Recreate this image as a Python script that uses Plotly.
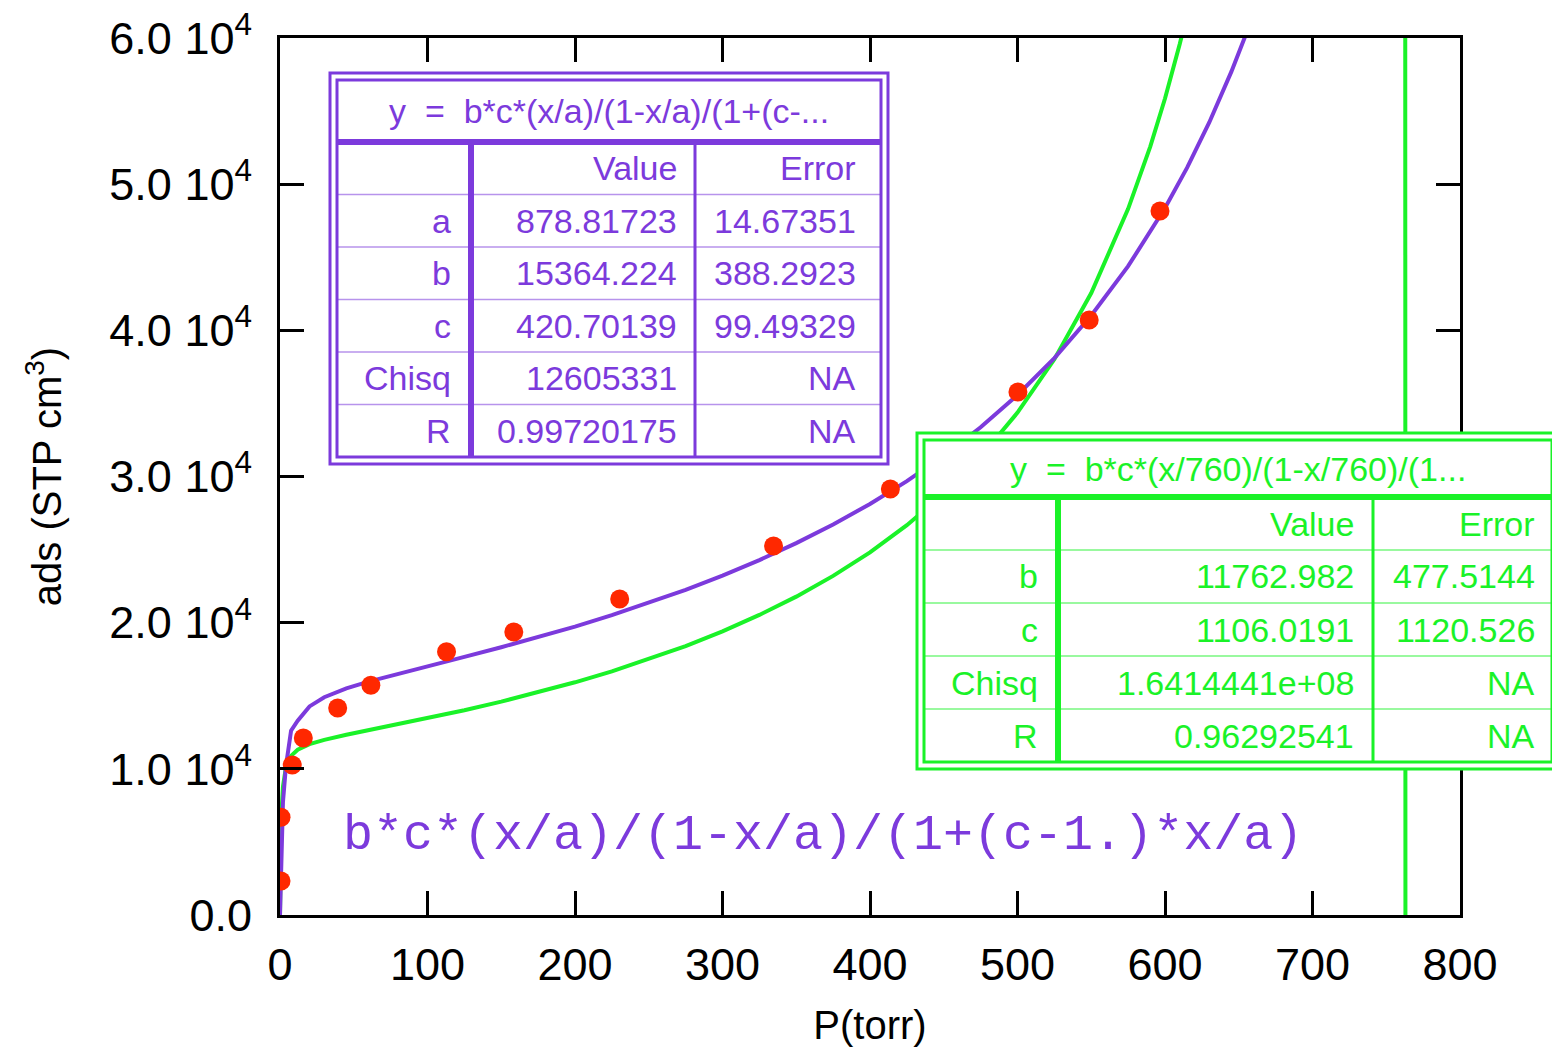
import plotly.graph_objects as go

# ---------------- data ----------------
p_torr = [0.7, 0.7, 8.3, 15.8, 39.1, 61.6, 112.9, 158.5, 230.3, 334.6, 413.8, 500.3, 548.6, 596.6]
ads = [2330, 6690, 10260, 12110, 14160, 15720, 18010, 19360, 21620, 25250, 29150, 35780, 40710, 48160]

fit1_x = [0, 1, 2, 4, 7.5, 12, 20, 30, 45, 60, 80, 100, 125, 150, 175, 200, 225, 250, 275, 300,
          325, 350, 375, 400, 425, 450, 475, 500, 525, 550, 575, 600, 615, 630, 645, 655]
fit1_y = [0, 4980, 7720, 10160, 12610, 13290, 14270, 14900, 15510, 15970, 16510, 17020, 17660, 18320,
          19000, 19730, 20510, 21350, 22250, 23220, 24280, 25440, 26720, 28120, 29680, 31420, 33370,
          35580, 38100, 41010, 44390, 48370, 51130, 54220, 57700, 60280]

fit2_x = [0, 1, 2, 4, 7.5, 12, 20, 30, 45, 60, 80, 100, 125, 150, 175, 200, 225, 250, 275, 300,
          325, 350, 375, 400, 425, 450, 475, 500, 525, 550, 575, 590, 600, 610, 615, 757, 766]
fit2_y = [0, 6990, 8780, 10100, 10890, 11310, 11690, 11980, 12330, 12640, 13050, 13470, 14010, 14600,
          15240, 15920, 16670, 17500, 18400, 19410, 20530, 21780, 23200, 24810, 26670, 28820, 31350,
          34370, 38030, 42550, 48310, 52570, 55860, 59590, 61640, 2980000, -1490000]

x_ticks = [0, 100, 200, 300, 400, 500, 600, 700, 800]
y_ticks = [0, 10000, 20000, 30000, 40000, 50000, 60000]
y_ticktext = ["0.0", "1.0 10<sup>4</sup>", "2.0 10<sup>4</sup>", "3.0 10<sup>4</sup>",
              "4.0 10<sup>4</sup>", "5.0 10<sup>4</sup>", "6.0 10<sup>4</sup>"]

NB = "\u00a0"
t1_header = "y" + NB + " = " + NB + "b*c*(x/a)/(1-x/a)/(1+(c-..."
t1_labels = ["a", "b", "c", "Chisq", "R"]
t1_values = ["878.81723", "15364.224", "420.70139", "12605331", "0.99720175"]
t1_errors = ["14.67351", "388.2923", "99.49329", "NA", "NA"]

t2_header = "y" + NB + " = " + NB + "b*c*(x/760)/(1-x/760)/(1..."
t2_labels = ["b", "c", "Chisq", "R"]
t2_values = ["11762.982", "1106.0191", "1.6414441e+08", "0.96292541"]
t2_errors = ["477.5144", "1120.526", "NA", "NA"]

formula_text = "b*c*(x/a)/(1-x/a)/(1+(c-1.)*x/a)"

# ---------------- style ----------------
PURPLE = "rgb(124,58,220)"
PURPLE_L = "rgba(124,58,220,0.55)"
GREEN = "rgb(26,242,40)"
GREEN_L = "rgba(26,242,40,0.6)"
RED = "rgb(255,40,0)"
FONT = "Liberation Sans, Arial, Helvetica, sans-serif"

W, H = 1560, 1050
OFF = 8  # page body margin
# plot area in page pixel coordinates
L, R, T, B = 280, 1460, 38, 915


def px(x):
    return (x - L) / (R - L)


def py(y):
    return (B - y) / (B - T)


fig = go.Figure()
fig.add_trace(go.Scatter(x=fit2_x, y=fit2_y, mode="lines",
                         line=dict(color=GREEN, width=4), showlegend=False))
fig.add_trace(go.Scatter(x=fit1_x, y=fit1_y, mode="lines",
                         line=dict(color=PURPLE, width=4), showlegend=False))
fig.add_trace(go.Scatter(x=p_torr, y=ads, mode="markers",
                         marker=dict(color=RED, size=19, line=dict(width=0)), showlegend=False))

shapes = []
annotations = []


def rect(x0, y0, x1, y1, color, width, fill=None):
    shapes.append(dict(type="rect", xref="paper", yref="paper", x0=px(x0), x1=px(x1),
                       y0=py(y1), y1=py(y0), line=dict(color=color, width=width),
                       fillcolor=fill if fill else "rgba(0,0,0,0)", layer="above"))


def hline(x0, x1, y, color, width):
    shapes.append(dict(type="line", xref="paper", yref="paper", x0=px(x0), x1=px(x1),
                       y0=py(y), y1=py(y), line=dict(color=color, width=width), layer="above"))


def vline(x, y0, y1, color, width):
    shapes.append(dict(type="line", xref="paper", yref="paper", x0=px(x), x1=px(x),
                       y0=py(y0), y1=py(y1), line=dict(color=color, width=width), layer="above"))


def text(x, y, s, color, size, anchor="right", family=FONT):
    annotations.append(dict(xref="paper", yref="paper", x=px(x), y=py(y), text=s,
                            showarrow=False, xanchor=anchor, yanchor="middle",
                            font=dict(family=family, size=size, color=color)))


def table(box, header, labels, values, errors, color, light, geo):
    ox0, oy0, ox1, oy1 = box
    rect(ox0, oy0, ox1, oy1, color, 3, "white")
    ix0, iy0, ix1, iy1 = ox0 + 7, oy0 + 7, ox1 - 7, oy1 - 7
    rect(ix0, iy0, ix1, iy1, color, 3)
    head_y, col1, col2, lab_r, val_r, err_r = geo
    hline(ix0, ix1, head_y, color, 6)
    n = len(labels) + 1
    rowh = (iy1 - head_y) / n
    for i in range(1, n):
        hline(ix0, ix1, head_y + rowh * i, light, 1.5)
    vline(col1, head_y, iy1, color, 6)
    vline(col2, head_y, iy1, color, 3)
    text((ix0 + ix1) / 2, (iy0 + head_y) / 2, header, color, 34, "center")
    cy = head_y + rowh / 2
    text(val_r, cy, "Value", color, 34)
    text(err_r, cy, "Error", color, 34)
    for i, (lab, v, e) in enumerate(zip(labels, values, errors)):
        yy = head_y + rowh * (i + 1.5)
        text(lab_r, yy, lab, color, 34)
        text(val_r, yy, v, color, 34)
        text(err_r, yy, e, color, 34)


table((330, 73, 888, 464), t1_header, t1_labels, t1_values, t1_errors, PURPLE, PURPLE_L,
      (142, 471, 695, 453, 679, 858))
table((917, 433, 1559, 769), t2_header, t2_labels, t2_values, t2_errors, GREEN, GREEN_L,
      (497, 1058, 1373, 1040, 1356, 1537))

text(823, 835, formula_text, PURPLE, 50, "center", "Liberation Mono, Courier New, monospace")

axis_common = dict(showline=True, linecolor="black", linewidth=3, mirror="ticks",
                   ticks="inside", ticklen=24, tickwidth=3, tickcolor="black",
                   showgrid=False, zeroline=False, ticklabeloverflow="allow",
                   automargin=False,
                   tickfont=dict(family=FONT, size=45, color="black"))

fig.update_layout(
    width=W, height=H,
    margin=dict(l=L - OFF, r=W - (R - OFF), t=T - OFF, b=H - (B - OFF)),
    paper_bgcolor="white", plot_bgcolor="white",
    xaxis=dict(range=[0, 800], tickvals=x_ticks, ticktext=[str(v) for v in x_ticks],
               title=dict(text="P(torr)", font=dict(family=FONT, size=40, color="black"),
                          standoff=22),
               ticklabelstandoff=8, **axis_common),
    yaxis=dict(range=[0, 60000], tickvals=y_ticks, ticktext=y_ticktext,
               title=dict(text="ads (STP cm<sup>3</sup>)",
                          font=dict(family=FONT, size=40, color="black"), standoff=36),
               ticklabelstandoff=16, **axis_common),
    shapes=shapes, annotations=annotations, showlegend=False,
)

fig.write_html("out.html")
